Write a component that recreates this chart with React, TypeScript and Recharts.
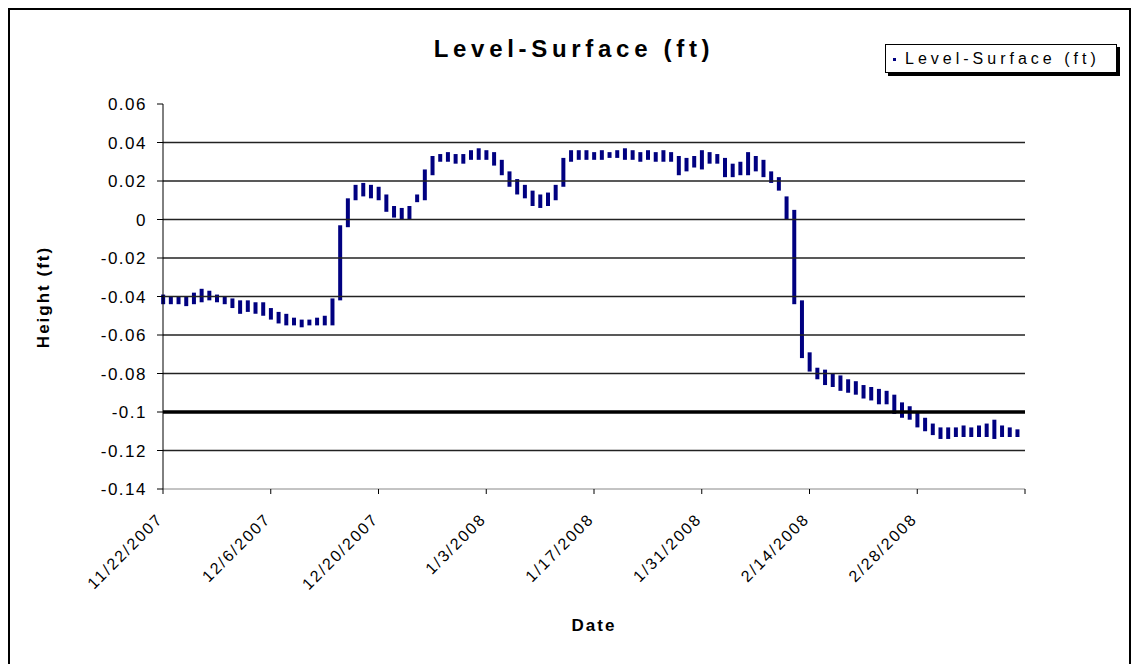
import React from "react";
import { Bar, ComposedChart, ReferenceLine, XAxis, YAxis } from "recharts";

// daily high / low of the surface level (ft), day 0 = 11/22/2007
const highs = [
  -0.039, -0.04, -0.04, -0.04, -0.038, -0.036, -0.037, -0.039, -0.04, -0.041,
  -0.042, -0.042, -0.043, -0.043, -0.046, -0.048, -0.049, -0.051, -0.052, -0.052,
  -0.051, -0.05, -0.041, -0.003, 0.011, 0.018, 0.019, 0.018, 0.017, 0.013,
  0.007, 0.006, 0.007, 0.013, 0.026, 0.033, 0.034, 0.035, 0.034, 0.034,
  0.036, 0.037, 0.036, 0.035, 0.031, 0.025, 0.021, 0.018, 0.015, 0.013,
  0.014, 0.018, 0.032, 0.036, 0.036, 0.036, 0.035, 0.036, 0.035, 0.036,
  0.037, 0.036, 0.035, 0.036, 0.035, 0.036, 0.035, 0.033, 0.032, 0.033,
  0.036, 0.035, 0.034, 0.032, 0.029, 0.03, 0.035, 0.033, 0.031, 0.025,
  0.022, 0.012, 0.005, -0.042, -0.069, -0.077, -0.078, -0.08, -0.081, -0.083,
  -0.084, -0.086, -0.087, -0.088, -0.089, -0.091, -0.095, -0.097, -0.1, -0.103,
  -0.106, -0.108, -0.108, -0.108, -0.107, -0.108, -0.107, -0.106, -0.104, -0.107,
  -0.108, -0.109,
];
const lows = [
  -0.044, -0.044, -0.044, -0.045, -0.044, -0.043, -0.042, -0.043, -0.044, -0.046,
  -0.049, -0.048, -0.049, -0.05, -0.052, -0.054, -0.055, -0.055, -0.056, -0.055,
  -0.055, -0.055, -0.055, -0.042, -0.004, 0.01, 0.012, 0.011, 0.01, 0.004,
  0.001, 0.0, 0.0, 0.009, 0.01, 0.023, 0.03, 0.03, 0.029, 0.029,
  0.031, 0.031, 0.031, 0.028, 0.023, 0.017, 0.013, 0.011, 0.007, 0.006,
  0.007, 0.01, 0.017, 0.03, 0.031, 0.031, 0.031, 0.031, 0.032, 0.032,
  0.031, 0.031, 0.03, 0.031, 0.03, 0.03, 0.03, 0.023, 0.025, 0.027,
  0.026, 0.029, 0.029, 0.022, 0.022, 0.023, 0.023, 0.025, 0.022, 0.019,
  0.015, 0.0, -0.044, -0.072, -0.079, -0.083, -0.086, -0.087, -0.089, -0.09,
  -0.091, -0.093, -0.094, -0.096, -0.096, -0.101, -0.103, -0.104, -0.108, -0.11,
  -0.112, -0.114, -0.114, -0.113, -0.113, -0.113, -0.113, -0.113, -0.114, -0.113,
  -0.113, -0.113,
];

const xTicks = [0, 14, 28, 42, 56, 70, 84, 98, 112];
const xLabels = ["11/22/2007", "12/6/2007", "12/20/2007", "1/3/2008", "1/17/2008", "1/31/2008", "2/14/2008", "2/28/2008", ""];
const yTicks = [0.06, 0.04, 0.02, 0, -0.02, -0.04, -0.06, -0.08, -0.1, -0.12, -0.14];
const yLabels = ["0.06", "0.04", "0.02", "0", "-0.02", "-0.04", "-0.06", "-0.08", "-0.1", "-0.12", "-0.14"];
const gridLines = [0.04, 0.02, 0, -0.02, -0.04, -0.06, -0.08, -0.12];

const data = highs.map((h, i) => ({ day: i, range: [lows[i], h] }));

const font = "'Liberation Sans', Arial, sans-serif";
const navy = "#000080";

function DateTick({ x, y, payload }: any) {
  const label = xLabels[xTicks.indexOf(payload.value)];
  return (
    <g transform={`translate(${x + 1},${y + 24})`}>
      <text transform="rotate(-45)" textAnchor="end" fontSize={16} fill="#000" fontFamily={font} style={{ letterSpacing: 2 }}>
        {label}
      </text>
    </g>
  );
}

export default function App() {
  return (
    <div style={{ position: "fixed", left: 0, top: 0, width: 1133, height: 664, overflow: "hidden", background: "#fff", fontFamily: font }}>
      <div style={{ position: "absolute", left: 8, top: 8, width: 1123, height: 700, border: "2px solid #000", boxSizing: "border-box" }} />
      <div style={{ position: "absolute", left: 0, width: 1148, top: 35, textAlign: "center", fontWeight: "bold", fontSize: 24, letterSpacing: 4.7 }}>
        Level-Surface (ft)
      </div>
      <div
        style={{
          position: "absolute", left: 885, top: 44, width: 232, height: 29, boxSizing: "border-box",
          border: "1px solid #000", boxShadow: "3px 3px 0 #000", background: "#fff",
          fontSize: 16, letterSpacing: 4, lineHeight: "27px", paddingLeft: 7, whiteSpace: "nowrap",
        }}
      >
        <span style={{ display: "inline-block", width: 3, height: 3, background: navy, marginRight: 9, verticalAlign: "middle" }} />
        Level-Surface (ft)
      </div>
      <div style={{ position: "absolute", left: 44, top: 297, transform: "translate(-50%,-50%) rotate(-90deg)", fontWeight: "bold", fontSize: 17, letterSpacing: 2, whiteSpace: "nowrap" }}>
        Height (ft)
      </div>
      <div style={{ position: "absolute", left: 594, top: 626, transform: "translate(-50%,-50%)", fontWeight: "bold", fontSize: 17, letterSpacing: 2 }}>
        Date
      </div>
      <div style={{ position: "absolute", left: 0, top: 0 }}>
        <ComposedChart width={1133} height={664} data={data} margin={{ top: 104, right: 108, bottom: 75, left: 103 }}>
          {gridLines.map((v) => (
            <ReferenceLine key={v} y={v} stroke="#222" strokeWidth={1.6} />
          ))}
          <ReferenceLine y={-0.1} stroke="#000" strokeWidth={3.5} />
          <XAxis
            type="number"
            dataKey="day"
            domain={[0, 112]}
            ticks={xTicks}
            interval={0}
            height={100}
            stroke="#888"
            tickLine={{ stroke: "#000" }}
            tickSize={5}
            tick={<DateTick />}
          />
          <YAxis
            type="number"
            domain={[-0.14, 0.06]}
            ticks={yTicks}
            interval={0}
            width={60}
            stroke="#000"
            tickSize={6}
            tickMargin={10}
            tickFormatter={(v: number) => yLabels[yTicks.indexOf(v)] ?? String(v)}
            tick={{ fill: "#000", fontSize: 17, fontFamily: font, style: { letterSpacing: 1.5 } }}
          />
          <Bar dataKey="range" fill={navy} barSize={4} isAnimationActive={false} />
        </ComposedChart>
      </div>
    </div>
  );
}
